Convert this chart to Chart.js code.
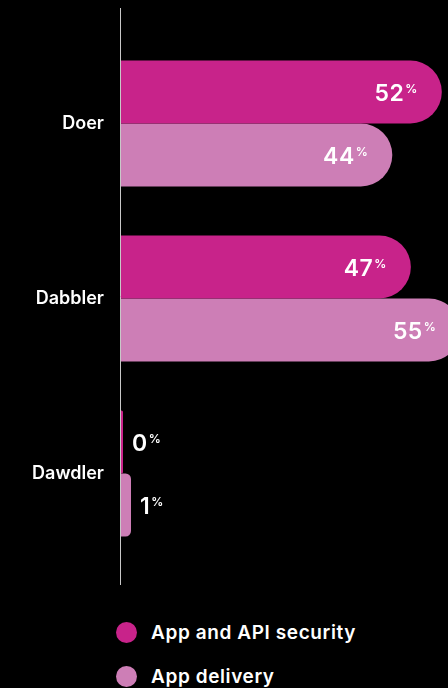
<!DOCTYPE html>
<html lang="en">
<head>
    <meta charset="UTF-8">
    <meta name="viewport" content="width=device-width, initial-scale=1.0">
    <title>Doer, Dabbler, Dawdler</title>
    <style>
        html, body {
            margin: 0;
            padding: 0;
            background-color: #000000;
            overflow: hidden;
            font-family: Inter, "Noto Sans", sans-serif;
        }

        /* Área do gráfico */
        .chart-box {
            position: relative;
            width: 448px;
            height: 600px;
        }

        /* Legenda em coluna */
        .legend {
            margin: 10px 0 0 116px;
        }

        .legend-item {
            display: flex;
            align-items: center;
            height: 44px;
            color: #ffffff;
            font-size: 19px;
            font-weight: 600;
            letter-spacing: 0.6px;
        }

        .legend-dot {
            width: 21px;
            height: 21px;
            border-radius: 50%;
            margin-right: 14px;
        }
    </style>
    <script src="https://cdn.jsdelivr.net/npm/chart.js"></script>
</head>
<body>
    <div class="chart-box">
        <canvas id="segmentChart"></canvas>
    </div>
    <div class="legend" id="legend"></div>

    <script>
        const categories = ['Doer', 'Dabbler', 'Dawdler'];
        const appApiSecurity = [52, 47, 0];
        const appDelivery = [44, 55, 1];
        const seriesNames = ['App and API security', 'App delivery'];
        const seriesColors = ['#c8238a', '#cd7eb6'];

        // Linha vertical do eixo, um pouco além da área do gráfico
        const axisLine = {
            id: 'axisLine',
            afterDatasetsDraw(chart, args, opts) {
                const { ctx, chartArea } = chart;
                const x = Math.round(chart.scales.x.getPixelForValue(0)) + 0.5;
                ctx.save();
                ctx.strokeStyle = opts.color;
                ctx.lineWidth = 1;
                ctx.beginPath();
                ctx.moveTo(x, chartArea.top - opts.above);
                ctx.lineTo(x, chartArea.bottom + opts.below);
                ctx.stroke();
                ctx.restore();
            }
        };

        // Rótulos de valor com o "%" em sobrescrito
        const valueLabels = {
            id: 'valueLabels',
            afterDatasetsDraw(chart) {
                const { ctx } = chart;
                ctx.save();
                ctx.fillStyle = '#ffffff';
                ctx.textAlign = 'left';
                ctx.textBaseline = 'alphabetic';
                ctx.letterSpacing = '0.5px';
                chart.data.datasets.forEach((ds, i) => {
                    chart.getDatasetMeta(i).data.forEach((bar, j) => {
                        const num = String(ds.data[j]);
                        ctx.font = '600 23px Inter';
                        const numW = ctx.measureText(num).width;
                        ctx.font = '600 12px Inter';
                        const pctW = ctx.measureText('%').width;

                        const inside = bar.x - bar.base > 60;
                        const left = inside ? bar.x - 24 - pctW - 1 - numW : bar.x + 9;

                        ctx.font = '600 23px Inter';
                        ctx.fillText(num, left, bar.y + 8.5);
                        ctx.font = '600 12px Inter';
                        ctx.fillText('%', left + numW + 1, bar.y + 0.5);
                    });
                });
                ctx.restore();
            }
        };

        function buildLegend() {
            const legend = document.getElementById('legend');
            seriesNames.forEach((name, i) => {
                const item = document.createElement('div');
                item.className = 'legend-item';
                item.innerHTML = `<span class="legend-dot" style="background:${seriesColors[i]}"></span>${name}`;
                legend.appendChild(item);
            });
        }

        const ctx = document.getElementById('segmentChart').getContext('2d');
        new Chart(ctx, {
            type: 'bar',
            data: {
                labels: categories,
                datasets: [{
                    label: seriesNames[0],
                    data: appApiSecurity,
                    backgroundColor: seriesColors[0],
                    minBarLength: 3
                }, {
                    label: seriesNames[1],
                    data: appDelivery,
                    backgroundColor: seriesColors[1],
                    minBarLength: 11
                }]
            },
            options: {
                indexAxis: 'y',
                responsive: true,
                maintainAspectRatio: false,
                animation: false,
                layout: {
                    padding: { top: 36, bottom: 39, left: 0, right: 0 }
                },
                datasets: {
                    bar: {
                        categoryPercentage: 0.72,
                        barPercentage: 1.0,
                        borderRadius: 40,
                        borderSkipped: 'start'
                    }
                },
                scales: {
                    x: {
                        display: false,
                        min: 0,
                        max: 53
                    },
                    y: {
                        grid: { display: false, drawTicks: false },
                        border: { display: false },
                        ticks: {
                            color: '#ffffff',
                            padding: 16,
                            font: { family: 'Inter', size: 18, weight: '600' }
                        },
                        afterFit(scale) {
                            scale.width = 120;
                        }
                    }
                },
                plugins: {
                    legend: { display: false },
                    tooltip: { enabled: false },
                    axisLine: { color: '#c8c8c8', above: 28, below: 24 }
                }
            },
            plugins: [axisLine, valueLabels]
        });

        buildLegend();
    </script>
</body>
</html>
